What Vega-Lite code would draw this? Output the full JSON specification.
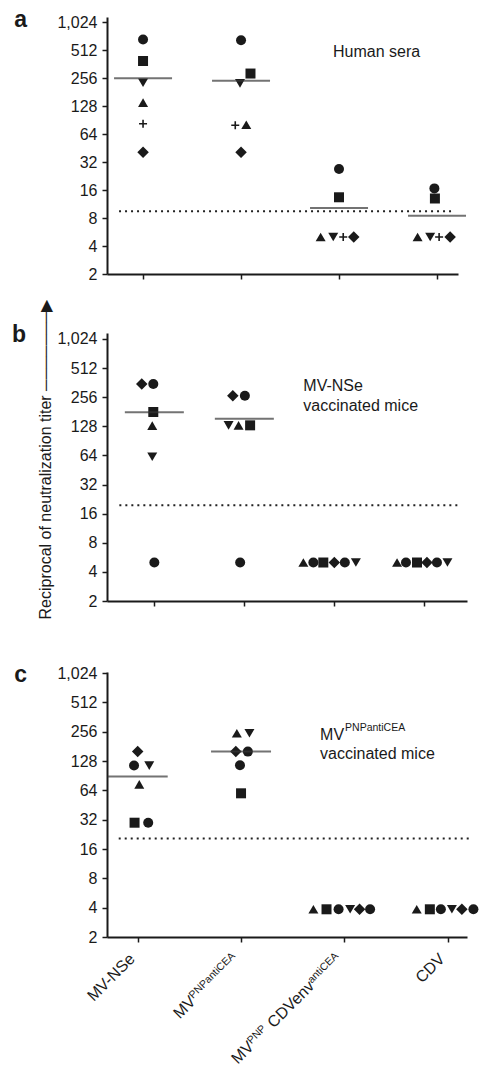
{
  "$schema": "https://vega.github.io/schema/vega-lite/v6.json",
  "background": "white",
  "padding": {"left": 11, "top": 9, "right": 0, "bottom": 0},
  "spacing": 17,
  "config": {
    "view": {"stroke": null},
    "font": "Liberation Sans",
    "axis": {"grid": false, "domainColor": "#1a1a1a", "domainWidth": 2, "tickColor": "#1a1a1a", "tickWidth": 1.5, "tickSize": 5, "labelFont": "Liberation Sans", "labelFontSize": 16, "labelColor": "#1a1a1a", "labelPadding": 5, "labelFlush": false, "labelOverlap": false, "titleFont": "Liberation Sans", "titleFontSize": 16, "titleFontWeight": "normal", "titleColor": "#1a1a1a"},
    "text": {"font": "Liberation Sans", "fontSize": 16, "color": "#1a1a1a"},
    "title": {"font": "Liberation Sans", "fontSize": 23, "fontWeight": "bold", "color": "#1a1a1a"}
  },
  "datasets": {
    "ptsA": [
      {"g": "MV-NSe", "s": "circle", "v": 671, "slot": 0},
      {"g": "MV-NSe", "s": "square", "v": 393, "slot": 0},
      {"g": "MV-NSe", "s": "triangle-down", "v": 229, "slot": 0},
      {"g": "MV-NSe", "s": "triangle-up", "v": 140, "slot": 0},
      {"g": "MV-NSe", "s": "plus", "v": 83, "slot": 0},
      {"g": "MV-NSe", "s": "diamond", "v": 41, "slot": 0},
      {"g": "MV-PNPantiCEA", "s": "circle", "v": 656, "slot": 0},
      {"g": "MV-PNPantiCEA", "s": "square", "v": 288, "slot": 0.9},
      {"g": "MV-PNPantiCEA", "s": "triangle-down", "v": 226, "slot": -0.1},
      {"g": "MV-PNPantiCEA", "s": "plus", "v": 80, "slot": -0.55},
      {"g": "MV-PNPantiCEA", "s": "triangle-up", "v": 81, "slot": 0.5},
      {"g": "MV-PNPantiCEA", "s": "diamond", "v": 41, "slot": 0},
      {"g": "MV-PNP-CDVenv-antiCEA", "s": "circle", "v": 27, "slot": 0},
      {"g": "MV-PNP-CDVenv-antiCEA", "s": "square", "v": 13.4, "slot": 0},
      {"g": "MV-PNP-CDVenv-antiCEA", "s": "triangle-up", "v": 5, "slot": -1.75},
      {"g": "MV-PNP-CDVenv-antiCEA", "s": "triangle-down", "v": 5, "slot": -0.55},
      {"g": "MV-PNP-CDVenv-antiCEA", "s": "plus", "v": 5, "slot": 0.4},
      {"g": "MV-PNP-CDVenv-antiCEA", "s": "diamond", "v": 5, "slot": 1.4},
      {"g": "CDV", "s": "circle", "v": 16.7, "slot": -0.25},
      {"g": "CDV", "s": "square", "v": 13, "slot": -0.2},
      {"g": "CDV", "s": "triangle-up", "v": 5, "slot": -1.85},
      {"g": "CDV", "s": "triangle-down", "v": 5, "slot": -0.65},
      {"g": "CDV", "s": "plus", "v": 5, "slot": 0.2},
      {"g": "CDV", "s": "diamond", "v": 5, "slot": 1.25}
    ],
    "medA": [
      {"g": "MV-NSe", "v": 256},
      {"g": "MV-PNPantiCEA", "v": 241},
      {"g": "MV-PNP-CDVenv-antiCEA", "v": 10.3},
      {"g": "CDV", "v": 8.5}
    ],
    "ptsB": [
      {"g": "MV-NSe", "s": "diamond", "v": 350, "slot": -1.2},
      {"g": "MV-NSe", "s": "circle", "v": 350, "slot": -0.1},
      {"g": "MV-NSe", "s": "square", "v": 180, "slot": -0.1},
      {"g": "MV-NSe", "s": "triangle-up", "v": 130, "slot": -0.2},
      {"g": "MV-NSe", "s": "triangle-down", "v": 62, "slot": -0.2},
      {"g": "MV-NSe", "s": "circle", "v": 5, "slot": 0},
      {"g": "MV-PNPantiCEA", "s": "diamond", "v": 265, "slot": -1.1},
      {"g": "MV-PNPantiCEA", "s": "circle", "v": 265, "slot": 0.05},
      {"g": "MV-PNPantiCEA", "s": "triangle-down", "v": 131, "slot": -1.5},
      {"g": "MV-PNPantiCEA", "s": "triangle-up", "v": 131, "slot": -0.55},
      {"g": "MV-PNPantiCEA", "s": "square", "v": 131, "slot": 0.55},
      {"g": "MV-PNPantiCEA", "s": "circle", "v": 5, "slot": -0.4},
      {"g": "MV-PNP-CDVenv-antiCEA", "s": "triangle-up", "v": 5, "slot": -2.95},
      {"g": "MV-PNP-CDVenv-antiCEA", "s": "circle", "v": 5, "slot": -2.0},
      {"g": "MV-PNP-CDVenv-antiCEA", "s": "square", "v": 5, "slot": -1.05},
      {"g": "MV-PNP-CDVenv-antiCEA", "s": "diamond", "v": 5, "slot": 0},
      {"g": "MV-PNP-CDVenv-antiCEA", "s": "circle", "v": 5, "slot": 1.0},
      {"g": "MV-PNP-CDVenv-antiCEA", "s": "triangle-down", "v": 5, "slot": 2.05},
      {"g": "CDV", "s": "triangle-up", "v": 5, "slot": -2.6},
      {"g": "CDV", "s": "circle", "v": 5, "slot": -1.75},
      {"g": "CDV", "s": "square", "v": 5, "slot": -0.7},
      {"g": "CDV", "s": "diamond", "v": 5, "slot": 0.25},
      {"g": "CDV", "s": "circle", "v": 5, "slot": 1.2},
      {"g": "CDV", "s": "triangle-down", "v": 5, "slot": 2.2}
    ],
    "medB": [
      {"g": "MV-NSe", "v": 179},
      {"g": "MV-PNPantiCEA", "v": 153}
    ],
    "ptsC": [
      {"g": "MV-NSe", "s": "diamond", "v": 160, "slot": 0},
      {"g": "MV-NSe", "s": "circle", "v": 115, "slot": -0.35},
      {"g": "MV-NSe", "s": "triangle-down", "v": 115, "slot": 1.1},
      {"g": "MV-NSe", "s": "triangle-up", "v": 73.6, "slot": 0.15},
      {"g": "MV-NSe", "s": "square", "v": 29.8, "slot": -0.3},
      {"g": "MV-NSe", "s": "circle", "v": 29.8, "slot": 1.0},
      {"g": "MV-PNPantiCEA", "s": "triangle-up", "v": 247, "slot": -0.4},
      {"g": "MV-PNPantiCEA", "s": "triangle-down", "v": 247, "slot": 0.8},
      {"g": "MV-PNPantiCEA", "s": "diamond", "v": 160, "slot": -0.5},
      {"g": "MV-PNPantiCEA", "s": "circle", "v": 160, "slot": 0.65},
      {"g": "MV-PNPantiCEA", "s": "circle", "v": 116, "slot": -0.1},
      {"g": "MV-PNPantiCEA", "s": "square", "v": 59.7, "slot": 0},
      {"g": "MV-PNP-CDVenv-antiCEA", "s": "triangle-up", "v": 3.85, "slot": -2.95},
      {"g": "MV-PNP-CDVenv-antiCEA", "s": "square", "v": 3.85, "slot": -1.7},
      {"g": "MV-PNP-CDVenv-antiCEA", "s": "circle", "v": 3.85, "slot": -0.55},
      {"g": "MV-PNP-CDVenv-antiCEA", "s": "triangle-down", "v": 3.85, "slot": 0.55},
      {"g": "MV-PNP-CDVenv-antiCEA", "s": "diamond", "v": 3.85, "slot": 1.45},
      {"g": "MV-PNP-CDVenv-antiCEA", "s": "circle", "v": 3.85, "slot": 2.45},
      {"g": "CDV", "s": "triangle-up", "v": 3.85, "slot": -2.95},
      {"g": "CDV", "s": "square", "v": 3.85, "slot": -1.7},
      {"g": "CDV", "s": "circle", "v": 3.85, "slot": -0.65},
      {"g": "CDV", "s": "triangle-down", "v": 3.85, "slot": 0.4},
      {"g": "CDV", "s": "diamond", "v": 3.85, "slot": 1.35},
      {"g": "CDV", "s": "circle", "v": 3.85, "slot": 2.45}
    ],
    "medC": [
      {"g": "MV-NSe", "v": 88.6},
      {"g": "MV-PNPantiCEA", "v": 160}
    ]
  },
  "vconcat": [
    {
      "width": 351,
      "height": 257,
      "title": {"text": "a", "orient": "left", "anchor": "end", "frame": "group", "angle": 0, "align": "right", "baseline": "alphabetic", "offset": 17, "dy": 10},
      "layer": [
        {
          "data": {"name": "ptsA"},
          "mark": {"type": "point", "filled": true, "opacity": 1, "size": 100, "color": "#1a1a1a"},
          "encoding": {
            "x": {"field": "g", "type": "nominal", "scale": {"type": "point", "domain": ["MV-NSe", "MV-PNPantiCEA", "MV-PNP-CDVenv-antiCEA", "CDV"], "padding": 0.291, "align": 0.632, "round": false}, "axis": {"labels": false, "title": null}},
            "xOffset": {"field": "slot", "type": "quantitative", "scale": {"domain": [-1, 1], "range": [-10.5, 10.5]}},
            "y": {"field": "v", "type": "quantitative", "scale": {"type": "log", "base": 2, "domain": [2, 1170], "nice": false}, "axis": {"values": [2, 4, 8, 16, 32, 64, 128, 256, 512, 1024], "format": ",", "title": null}},
            "shape": {"field": "s", "type": "nominal", "scale": {"domain": ["circle", "square", "triangle-up", "triangle-down", "diamond", "plus"], "range": ["circle", "square", "triangle-up", "triangle-down", "M0,-1.15L1.15,0L0,1.15L-1.15,0Z", "M-0.8,-0.16H0.8V0.16H-0.8Z M-0.16,-0.8H0.16V0.8H-0.16Z"]}, "legend": null}
          }
        },
        {
          "data": {"name": "medA"},
          "mark": {"type": "tick", "size": 58, "thickness": 2, "color": "#383838"},
          "encoding": {
            "x": {"field": "g", "type": "nominal"},
            "y": {"field": "v", "type": "quantitative"}
          }
        },
        {
          "data": {"values": [{"lo": "MV-NSe", "hi": "CDV", "v": 9.5}]},
          "mark": {"type": "rule", "strokeDash": [2, 4], "strokeWidth": 2, "color": "#222222", "xOffset": -24, "x2Offset": 18},
          "encoding": {
            "x": {"field": "lo", "type": "nominal"},
            "x2": {"field": "hi"},
            "y": {"field": "v", "type": "quantitative"}
          }
        },
        {
          "data": {"values": [{"g": "MV-PNP-CDVenv-antiCEA", "v": 487}]},
          "mark": {"type": "text", "text": "Human sera", "align": "left", "baseline": "middle", "dx": -6, "fontSize": 16},
          "encoding": {
            "x": {"field": "g", "type": "nominal"},
            "y": {"field": "v", "type": "quantitative"}
          }
        }
      ]
    },
    {
      "width": 360,
      "height": 268,
      "title": {"text": "b", "orient": "left", "anchor": "end", "frame": "group", "angle": 0, "align": "right", "baseline": "alphabetic", "offset": -3, "dy": 9},
      "layer": [
        {
          "data": {"name": "ptsB"},
          "mark": {"type": "point", "filled": true, "opacity": 1, "size": 100, "color": "#1a1a1a"},
          "encoding": {
            "x": {"field": "g", "type": "nominal", "scale": {"type": "point", "domain": ["MV-NSe", "MV-PNPantiCEA", "MV-PNP-CDVenv-antiCEA", "CDV"], "padding": 0.5, "align": 0.526, "round": false}, "axis": {"labels": false, "title": null}},
            "xOffset": {"field": "slot", "type": "quantitative", "scale": {"domain": [-1, 1], "range": [-10.5, 10.5]}},
            "y": {"field": "v", "type": "quantitative", "scale": {"type": "log", "base": 2, "domain": [2, 1180], "nice": false}, "axis": {"values": [2, 4, 8, 16, 32, 64, 128, 256, 512, 1024], "format": ",", "title": "Reciprocal of neutralization titer ───────▶", "titleX": -62, "titleY": 126, "titleAngle": -90, "titleAlign": "center", "titleBaseline": "middle"}},
            "shape": {"field": "s", "type": "nominal", "scale": {"domain": ["circle", "square", "triangle-up", "triangle-down", "diamond", "plus"], "range": ["circle", "square", "triangle-up", "triangle-down", "M0,-0.78L0.78,0L0,0.78L-0.78,0Z", "M-0.8,-0.16H0.8V0.16H-0.8Z M-0.16,-0.8H0.16V0.8H-0.16Z"]}, "legend": null}
          }
        },
        {
          "data": {"name": "medB"},
          "mark": {"type": "tick", "size": 59, "thickness": 2, "color": "#383838"},
          "encoding": {
            "x": {"field": "g", "type": "nominal"},
            "y": {"field": "v", "type": "quantitative"}
          }
        },
        {
          "data": {"values": [{"lo": "MV-NSe", "hi": "CDV", "v": 19.6}]},
          "mark": {"type": "rule", "strokeDash": [2, 4], "strokeWidth": 2, "color": "#222222", "xOffset": -35, "x2Offset": 36},
          "encoding": {
            "x": {"field": "lo", "type": "nominal"},
            "x2": {"field": "hi"},
            "y": {"field": "v", "type": "quantitative"}
          }
        },
        {
          "data": {"values": [{"g": "MV-PNP-CDVenv-antiCEA", "v": 331}]},
          "mark": {"type": "text", "text": "MV-NSe", "align": "left", "baseline": "middle", "dx": -31, "fontSize": 16},
          "encoding": {
            "x": {"field": "g", "type": "nominal"},
            "y": {"field": "v", "type": "quantitative"}
          }
        },
        {
          "data": {"values": [{"g": "MV-PNP-CDVenv-antiCEA", "v": 331}]},
          "mark": {"type": "text", "text": "vaccinated mice", "align": "left", "baseline": "middle", "dx": -31, "dy": 19.3, "fontSize": 16},
          "encoding": {
            "x": {"field": "g", "type": "nominal"},
            "y": {"field": "v", "type": "quantitative"}
          }
        }
      ]
    },
    {
      "width": 360,
      "height": 265,
      "title": {"text": "c", "orient": "left", "anchor": "end", "frame": "group", "angle": 0, "align": "right", "baseline": "alphabetic", "offset": 17, "dy": 10},
      "layer": [
        {
          "data": {"name": "ptsC"},
          "mark": {"type": "point", "filled": true, "opacity": 1, "size": 100, "color": "#1a1a1a"},
          "encoding": {
            "x": {"field": "g", "type": "nominal", "scale": {"type": "point", "domain": ["MV-NSe", "MV-PNPantiCEA", "MV-PNP-CDVenv-antiCEA", "CDV"], "padding": 0.242, "align": 0.614, "round": false}, "axis": {"labels": false, "title": null}},
            "xOffset": {"field": "slot", "type": "quantitative", "scale": {"domain": [-1, 1], "range": [-10.5, 10.5]}},
            "y": {"field": "v", "type": "quantitative", "scale": {"type": "log", "base": 2, "domain": [2, 1050], "nice": false}, "axis": {"values": [2, 4, 8, 16, 32, 64, 128, 256, 512, 1024], "format": ",", "title": ".", "titleOpacity": 0, "titleAngle": 0, "titleX": 40, "titleY": -36, "titleAlign": "left", "titleBaseline": "top"}},
            "shape": {"field": "s", "type": "nominal", "scale": {"domain": ["circle", "square", "triangle-up", "triangle-down", "diamond", "plus"], "range": ["circle", "square", "triangle-up", "triangle-down", "M0,-0.75L0.75,0L0,0.75L-0.75,0Z", "M-0.8,-0.16H0.8V0.16H-0.8Z M-0.16,-0.8H0.16V0.8H-0.16Z"]}, "legend": null}
          }
        },
        {
          "data": {"name": "medC"},
          "mark": {"type": "tick", "size": 60, "thickness": 2, "color": "#383838"},
          "encoding": {
            "x": {"field": "g", "type": "nominal"},
            "y": {"field": "v", "type": "quantitative"}
          }
        },
        {
          "data": {"values": [{"lo": "MV-NSe", "hi": "CDV", "v": 20.5}]},
          "mark": {"type": "rule", "strokeDash": [2, 4], "strokeWidth": 2, "color": "#222222", "xOffset": -19, "x2Offset": 22},
          "encoding": {
            "x": {"field": "lo", "type": "nominal"},
            "x2": {"field": "hi"},
            "y": {"field": "v", "type": "quantitative"}
          }
        },
        {
          "data": {"values": [{"g": "MV-PNP-CDVenv-antiCEA", "v": 236}]},
          "mark": {"type": "text", "text": "MV", "align": "left", "baseline": "middle", "dx": -24.3, "fontSize": 16},
          "encoding": {"x": {"field": "g", "type": "nominal"}, "y": {"field": "v", "type": "quantitative"}}
        },
        {
          "data": {"values": [{"g": "MV-PNP-CDVenv-antiCEA", "v": 236}]},
          "mark": {"type": "text", "text": "PNPantiCEA", "align": "left", "baseline": "middle", "dx": 0.7, "dy": -6.7, "fontSize": 10.5},
          "encoding": {"x": {"field": "g", "type": "nominal"}, "y": {"field": "v", "type": "quantitative"}}
        },
        {
          "data": {"values": [{"g": "MV-PNP-CDVenv-antiCEA", "v": 236}]},
          "mark": {"type": "text", "text": "vaccinated mice", "align": "left", "baseline": "middle", "dx": -24.3, "dy": 19, "fontSize": 16},
          "encoding": {"x": {"field": "g", "type": "nominal"}, "y": {"field": "v", "type": "quantitative"}}
        },
        {
          "data": {"values": [{"g": "MV-NSe", "t": "MV-NSe", "v": 2}, {"g": "CDV", "t": "CDV", "v": 2}]},
          "mark": {"type": "text", "align": "right", "baseline": "alphabetic", "angle": 315, "dx": -17.6, "dy": 14.9, "fontSize": 16},
          "encoding": {"x": {"field": "g", "type": "nominal"}, "y": {"field": "v", "type": "quantitative"}, "text": {"field": "t"}}
        },
        {
          "data": {"values": [{"g": "MV-PNPantiCEA", "t": "PNPantiCEA", "v": 2}, {"g": "MV-PNP-CDVenv-antiCEA", "t": "antiCEA", "v": 2}]},
          "mark": {"type": "text", "align": "right", "baseline": "alphabetic", "angle": 315, "dx": -17.6, "dy": 9.9, "fontSize": 10.5},
          "encoding": {"x": {"field": "g", "type": "nominal"}, "y": {"field": "v", "type": "quantitative"}, "text": {"field": "t"}}
        },
        {
          "data": {"values": [{"g": "MV-PNPantiCEA", "t": "MV", "v": 2}]},
          "mark": {"type": "text", "align": "right", "baseline": "alphabetic", "angle": 315, "dx": -77.7, "dy": 14.9, "fontSize": 16},
          "encoding": {"x": {"field": "g", "type": "nominal"}, "y": {"field": "v", "type": "quantitative"}, "text": {"field": "t"}}
        },
        {
          "data": {"values": [{"g": "MV-PNP-CDVenv-antiCEA", "t": "CDVenv", "v": 2}]},
          "mark": {"type": "text", "align": "right", "baseline": "alphabetic", "angle": 315, "dx": -56.1, "dy": 14.9, "fontSize": 16},
          "encoding": {"x": {"field": "g", "type": "nominal"}, "y": {"field": "v", "type": "quantitative"}, "text": {"field": "t"}}
        },
        {
          "data": {"values": [{"g": "MV-PNP-CDVenv-antiCEA", "t": "PNP", "v": 2}]},
          "mark": {"type": "text", "align": "right", "baseline": "alphabetic", "angle": 315, "dx": -120.1, "dy": 9.9, "fontSize": 10.5},
          "encoding": {"x": {"field": "g", "type": "nominal"}, "y": {"field": "v", "type": "quantitative"}, "text": {"field": "t"}}
        },
        {
          "data": {"values": [{"g": "MV-PNP-CDVenv-antiCEA", "t": "MV", "v": 2}]},
          "mark": {"type": "text", "align": "right", "baseline": "alphabetic", "angle": 315, "dx": -141.7, "dy": 14.9, "fontSize": 16},
          "encoding": {"x": {"field": "g", "type": "nominal"}, "y": {"field": "v", "type": "quantitative"}, "text": {"field": "t"}}
        }
      ]
    }
  ]
}
